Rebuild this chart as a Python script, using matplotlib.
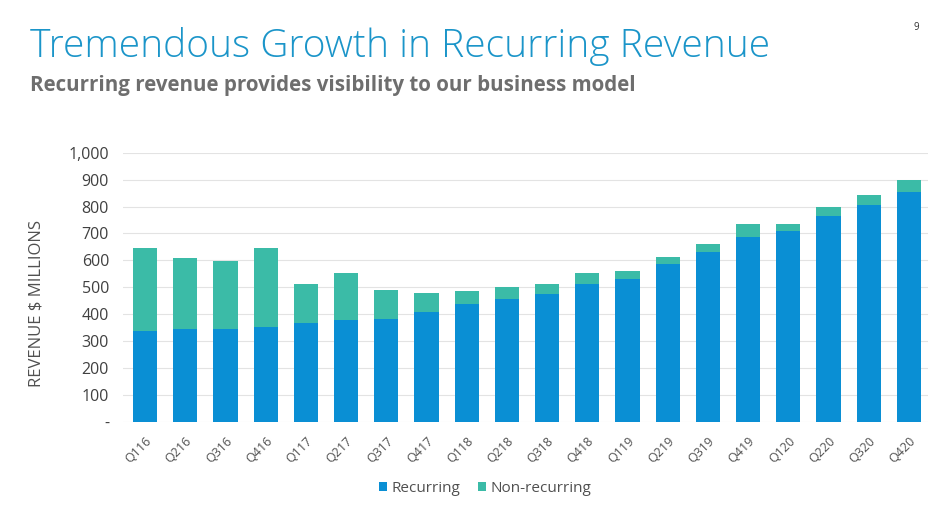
import matplotlib
matplotlib.use("Agg")
import matplotlib.pyplot as plt
import numpy as np

plt.rcParams['font.family'] = ['Open Sans', 'DejaVu Sans']

# quarter labels and revenue ($M)
quarters = ["Q116", "Q216", "Q316", "Q416", "Q117", "Q217", "Q317", "Q417",
            "Q118", "Q218", "Q318", "Q418", "Q119", "Q219", "Q319", "Q419",
            "Q120", "Q220", "Q320", "Q420"]
recurring = [338, 343, 343, 352, 368, 377, 383, 408,
             436, 457, 473, 513, 532, 587, 631, 687,
             708, 766, 806, 856]
total = [645, 608, 598, 647, 512, 552, 490, 478,
         486, 501, 513, 553, 560, 611, 661, 737,
         735, 797, 844, 900]
non_recurring = [t - r for t, r in zip(total, recurring)]

y_ticks = [0, 100, 200, 300, 400, 500, 600, 700, 800, 900, 1000]
y_labels = ["-", "100", "200", "300", "400", "500", "600", "700", "800", "900", "1,000"]

blue = "#0a8fd4"
teal = "#3bbba7"

fig = plt.figure(figsize=(9.53, 5.18), dpi=100)
fig.patch.set_facecolor("white")

ax = fig.add_axes([0.129, 0.186, 0.845, 0.519])
x = np.arange(len(quarters))
ax.bar(x, recurring, width=0.6, color=blue, label="Recurring", zorder=3)
ax.bar(x, non_recurring, width=0.6, bottom=recurring, color=teal,
       label="Non-recurring", zorder=3)

ax.set_xlim(-0.55, len(quarters) - 0.52)
ax.set_ylim(0, 1000)
ax.set_yticks(y_ticks)
ax.set_yticklabels(y_labels, fontsize=11.5, color="#404040")
ax.set_xticks(x)
ax.set_xticklabels(quarters, rotation=45, ha="right", rotation_mode="anchor",
                   fontsize=9, color="#505050")
ax.tick_params(axis="y", length=0, pad=10)
ax.tick_params(axis="x", length=0, pad=9)
ax.grid(axis="y", color="#e3e3e3", linewidth=0.8, zorder=0)
for s in ax.spines.values():
    s.set_visible(False)
ax.set_facecolor("none")
ax.set_ylabel("REVENUE $ MILLIONS", fontsize=12, color="#505050")
ax.yaxis.set_label_coords(-0.097, 0.44)

ax.legend(loc="upper center", bbox_to_anchor=(0.45, -0.17), ncol=2,
          frameon=False, fontsize=11, handlelength=0.5, handleheight=0.5,
          handletextpad=0.3, columnspacing=1.2, labelcolor="#505050")

fig.text(0.031, 0.91, "Tremendous Growth in Recurring Revenue", fontsize=28,
         color="#1b95c9", va="center", ha="left", fontweight="light")
fig.text(0.031, 0.835, "Recurring revenue provides visibility to our business model",
         fontsize=14.8, color="#6e6e6e", va="center", ha="left", fontweight="bold")
fig.text(0.961, 0.946, "9", fontsize=7, color="#333333", ha="center", va="center")

plt.savefig("out.png", dpi=100)
